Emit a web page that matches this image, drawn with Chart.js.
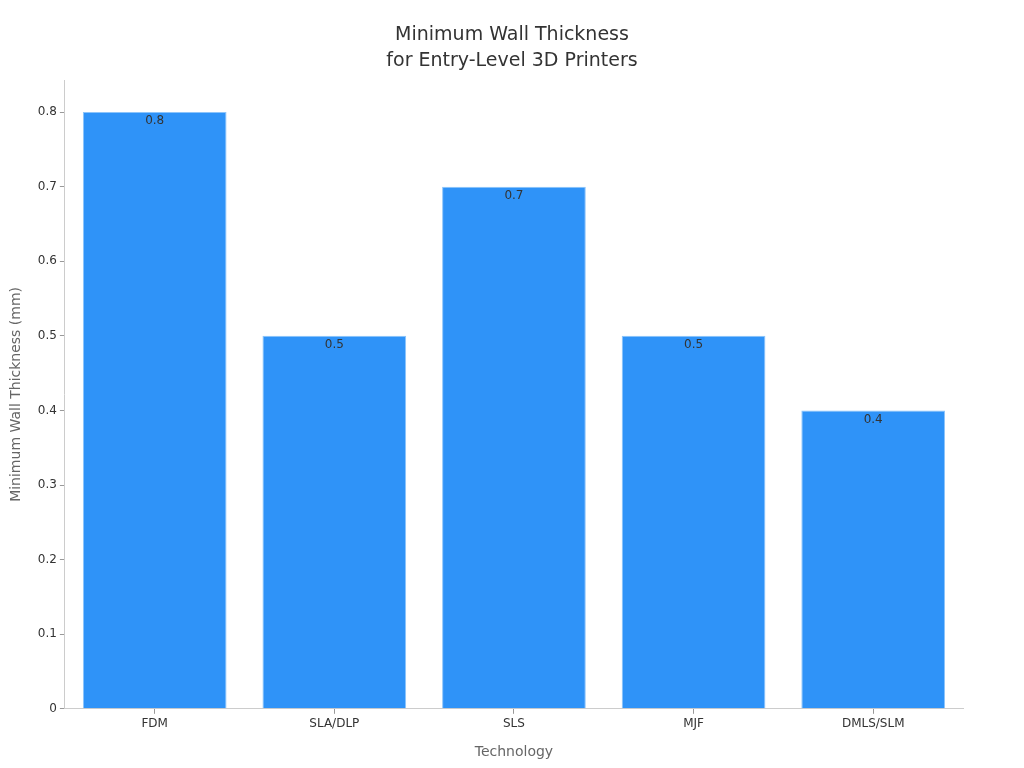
<!DOCTYPE html>
<html>
<head>
<meta charset="utf-8">
<script src="https://cdn.jsdelivr.net/npm/chart.js@4/dist/chart.umd.min.js"></script>
<style>
  html, body { margin: 0; padding: 0; background: #fff; }
  #wrap { width: 1024px; height: 768px; }
</style>
</head>
<body>
<div id="wrap"><canvas id="c" width="1024" height="768"></canvas></div>
<script>
const categories = ["FDM", "SLA/DLP", "SLS", "MJF", "DMLS/SLM"];
const thickness = [0.8, 0.5, 0.7, 0.5, 0.4];
const yTicks = [0, 0.1, 0.2, 0.3, 0.4, 0.5, 0.6, 0.7, 0.8];
const titleLines = ["Minimum Wall Thickness", "for Entry-Level 3D Printers"];

const FONT = "'DejaVu Sans', sans-serif";

const labelPlugin = {
  id: 'barLabels',
  afterDatasetsDraw(chart) {
    const ctx = chart.ctx;
    const meta = chart.getDatasetMeta(0);
    ctx.save();
    ctx.font = "12px " + FONT;
    ctx.fillStyle = "#333333";
    ctx.textAlign = "center";
    ctx.textBaseline = "middle";
    meta.data.forEach((bar, i) => {
      ctx.fillText(String(thickness[i]), bar.x, bar.y + 9);
    });
    ctx.restore();
  },
  afterDraw(chart) {
    const ctx = chart.ctx;
    ctx.save();
    ctx.font = "19px " + FONT;
    ctx.fillStyle = "#333333";
    ctx.textAlign = "center";
    ctx.textBaseline = "middle";
    ctx.fillText(titleLines[0], chart.width / 2, 35);
    ctx.fillText(titleLines[1], chart.width / 2, 61);
    ctx.restore();
  }
};

new Chart(document.getElementById('c'), {
  type: 'bar',
  data: {
    labels: categories,
    datasets: [{
      data: thickness,
      backgroundColor: '#2f93f8',
      borderColor: '#8cc4fb',
      borderWidth: 1,
      barPercentage: 0.8,
      categoryPercentage: 1.0
    }]
  },
  options: {
    responsive: false,
    animation: false,
    devicePixelRatio: 1,
    layout: { padding: { left: 4, right: 61, top: 80, bottom: 3 } },
    plugins: {
      legend: { display: false },
      tooltip: { enabled: false },
      title: { display: false }
    },
    scales: {
      x: {
        grid: { display: true, offset: false, drawOnChartArea: false, drawTicks: true, tickLength: 5, color: '#999999' },
        border: { display: true, color: '#cccccc' },
        ticks: { color: '#333333', font: { family: FONT, size: 12 }, padding: 3 },
        title: { display: true, text: 'Technology', color: '#666666', font: { family: FONT, size: 14 }, padding: { top: 10 } }
      },
      y: {
        min: 0,
        max: 0.843,
        afterBuildTicks(axis) { axis.ticks = yTicks.map(v => ({ value: v })); },
        grid: { display: true, drawOnChartArea: false, drawTicks: true, tickLength: 5, color: '#999999' },
        border: { display: true, color: '#cccccc' },
        ticks: { color: '#333333', font: { family: FONT, size: 12 }, padding: 3,
                 callback: (v) => String(Math.round(v * 10) / 10) },
        title: { display: true, text: 'Minimum Wall Thickness (mm)', color: '#666666', font: { family: FONT, size: 14 }, padding: { bottom: 10 } }
      }
    }
  },
  plugins: [labelPlugin]
});
</script>
</body>
</html>
